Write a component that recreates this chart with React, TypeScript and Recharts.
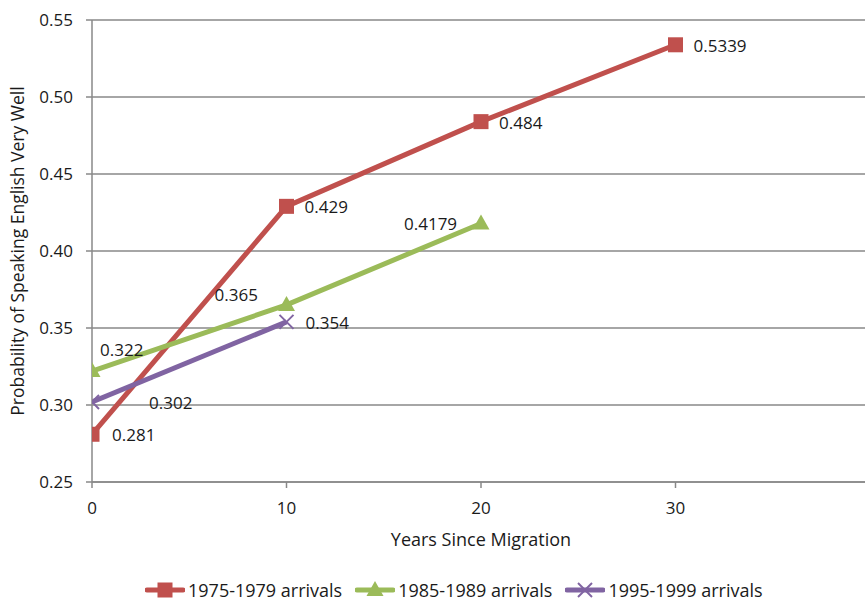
import { LineChart, Line, XAxis, YAxis, CartesianGrid, Legend, LabelList, Label } from "recharts";

// Values
const years = [0, 10, 20, 30];
const arrivals1975 = [0.281, 0.429, 0.484, 0.5339];
const arrivals1985 = [0.322, 0.365, 0.4179];
const arrivals1995 = [0.302, 0.354];
const xTicks = [0, 10, 20, 30];
const yTicks = [0.25, 0.3, 0.35, 0.4, 0.45, 0.5, 0.55];
const seriesNames = ["1975-1979 arrivals", "1985-1989 arrivals", "1995-1999 arrivals"];

// label nudges (dx, dy) per point, so labels sit where Excel put them
const labelNudge1975 = [[20, 1], [18, 1], [18, 1], [18, 1]];
const labelNudge1985 = [[8, -21], [-72, -10], [-77, 1]];
const labelNudge1995 = [[57, 1], [19, 1]];

const RED = "#C0504D";
const GREEN = "#9BBB59";
const PURPLE = "#8064A2";
const GRID = "#888888";
const FONT = "'Open Sans', sans-serif";
const TEXT = "#1a1a1a";

const data = years.map((y, i) => ({
  years: y,
  a1975: arrivals1975[i] ?? null,
  a1985: arrivals1985[i] ?? null,
  a1995: arrivals1995[i] ?? null,
}));

function Marker({ kind, cx, cy, color }: { kind: string; cx: number; cy: number; color: string }) {
  if (cx == null || cy == null || isNaN(cx) || isNaN(cy)) return <g />;
  if (kind === "square") {
    return <rect x={cx - 7.5} y={cy - 7.5} width={15} height={15} fill={color} />;
  }
  if (kind === "triangle") {
    return <polygon points={`${cx},${cy - 9} ${cx + 8.5},${cy + 6} ${cx - 8.5},${cy + 6}`} fill={color} />;
  }
  return (
    <g stroke={color} strokeWidth={2}>
      <line x1={cx - 7} y1={cy - 7} x2={cx + 7} y2={cy + 7} />
      <line x1={cx - 7} y1={cy + 7} x2={cx + 7} y2={cy - 7} />
    </g>
  );
}

function makeDot(kind: string, color: string) {
  return (p: any) => <Marker key={`${kind}-${p.index}`} kind={kind} cx={p.cx} cy={p.cy} color={color} />;
}

function makeLabel(nudge: number[][]) {
  return (p: any) => {
    if (p.value == null) return null;
    const [dx, dy] = nudge[p.index] || [18, 0];
    return (
      <text
        x={p.x + dx}
        y={p.y + dy}
        dy="0.35em"
        textAnchor="start"
        fontFamily={FONT}
        fontSize={17}
        fill={TEXT}
      >
        {p.value}
      </text>
    );
  };
}

function LegendIcon({ kind, color }: { kind: string; color: string }) {
  return (
    <svg width={40} height={20} style={{ display: "block" }}>
      <line x1={2} y1={10} x2={38} y2={10} stroke={color} strokeWidth={5} strokeLinecap="round" />
      <Marker kind={kind} cx={20} cy={10} color={color} />
    </svg>
  );
}

function CustomLegend() {
  const items = [
    { name: seriesNames[0], kind: "square", color: RED },
    { name: seriesNames[1], kind: "triangle", color: GREEN },
    { name: seriesNames[2], kind: "cross", color: PURPLE },
  ];
  return (
    <div
      style={{
        display: "flex",
        alignItems: "center",
        height: 24,
        lineHeight: "24px",
        fontFamily: FONT,
        fontSize: 18,
        color: TEXT,
      }}
    >
      {items.map((it) => (
        <div key={it.name} style={{ display: "flex", alignItems: "center", marginRight: 13 }}>
          <LegendIcon kind={it.kind} color={it.color} />
          <span style={{ marginLeft: 3, whiteSpace: "nowrap" }}>{it.name}</span>
        </div>
      ))}
    </div>
  );
}

export default function App() {
  return (
    <div style={{ position: "fixed", left: 0, top: 0, width: 865, height: 602, overflow: "hidden", background: "#fff" }}>
      <LineChart width={888} height={602} data={data} margin={{ top: 20, right: 18, left: 0, bottom: 0 }}>
        <CartesianGrid vertical={false} stroke={GRID} strokeWidth={1.5} />
        <XAxis
          dataKey="years"
          type="number"
          domain={[0, 40]}
          ticks={xTicks}
          allowDataOverflow
          height={96}
          axisLine={{ stroke: GRID, strokeWidth: 1.5 }}
          tickLine={{ stroke: GRID, strokeWidth: 1.5 }}
          tickSize={6}
          tickMargin={14}
          tick={{ fontFamily: FONT, fontSize: 17, fill: TEXT }}
        >
          <Label
            content={({ viewBox }: any) => (
              <text
                x={viewBox.x + viewBox.width / 2}
                y={540}
                dy="0.35em"
                textAnchor="middle"
                fontFamily={FONT}
                fontSize={18}
                fill={TEXT}
              >
                Years Since Migration
              </text>
            )}
          />
        </XAxis>
        <YAxis
          type="number"
          domain={[0.25, 0.55]}
          ticks={yTicks}
          width={92}
          tickFormatter={(v: number) => v.toFixed(2)}
          axisLine={{ stroke: GRID, strokeWidth: 1.5 }}
          tickLine={{ stroke: GRID, strokeWidth: 1.5 }}
          tickSize={6}
          tickMargin={13}
          tick={{ fontFamily: FONT, fontSize: 17, fill: TEXT }}
        >
          <Label
            content={({ viewBox }: any) => {
              const cy = viewBox.y + viewBox.height / 2;
              return (
                <text
                  x={18}
                  y={cy}
                  dy="0.35em"
                  transform={`rotate(-90, 18, ${cy})`}
                  textAnchor="middle"
                  fontFamily={FONT}
                  fontSize={17.5}
                  fill={TEXT}
                >
                  Probability of Speaking English Very Well
                </text>
              );
            }}
          />
        </YAxis>
        <Legend
          verticalAlign="bottom"
          content={<CustomLegend />}
          wrapperStyle={{ left: 145, bottom: 0, width: "auto", height: 24 }}
        />
        <Line
          dataKey="a1975"
          name={seriesNames[0]}
          stroke={RED}
          strokeWidth={5}
          dot={makeDot("square", RED)}
          isAnimationActive={false}
        >
          <LabelList dataKey="a1975" content={makeLabel(labelNudge1975)} />
        </Line>
        <Line
          dataKey="a1985"
          name={seriesNames[1]}
          stroke={GREEN}
          strokeWidth={5}
          dot={makeDot("triangle", GREEN)}
          isAnimationActive={false}
        >
          <LabelList dataKey="a1985" content={makeLabel(labelNudge1985)} />
        </Line>
        <Line
          dataKey="a1995"
          name={seriesNames[2]}
          stroke={PURPLE}
          strokeWidth={5}
          dot={makeDot("cross", PURPLE)}
          isAnimationActive={false}
        >
          <LabelList dataKey="a1995" content={makeLabel(labelNudge1995)} />
        </Line>
      </LineChart>
    </div>
  );
}
